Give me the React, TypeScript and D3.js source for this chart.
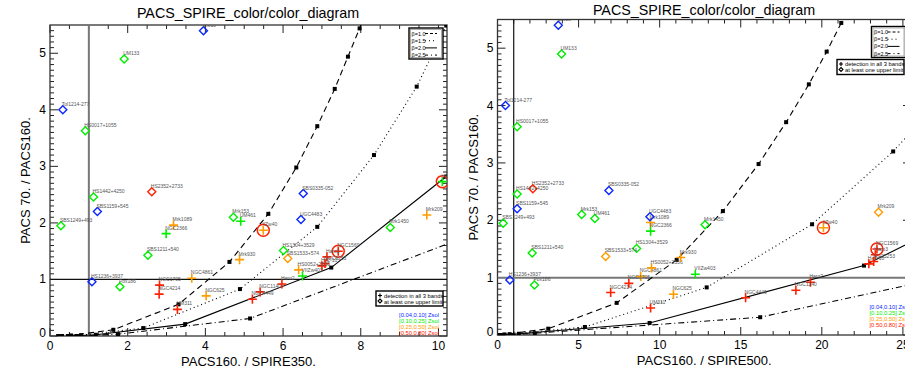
import React from 'react';
import * as d3 from 'd3';

// galaxies of the sample
const names = ['IZw18', 'UM133', 'Tol1214-277', 'HS0017+1055', 'HS2352+2733', 'HS1442+4250', 'SBS1159+545', 'SBS1249+493',
  'Mrk1089', 'NGC2366', 'SBS1211+540', 'HS1236+3937', 'Pox186', 'NGC4861', 'NGC1705', 'NGC4214', 'NGC625', 'UM311',
  'SBS0335-052', 'Mrk153', 'UM461', 'UGC4483', 'IIZw40', 'Mrk1450', 'Mrk209', 'HS1304+3529', 'SBS1533+574', 'NGC1569',
  'Haro3', 'He2-10', 'NGC5253', 'HS0052+2536', 'VIIZw403', 'Haro2', 'NGC1140', 'NGC4449', 'Mrk930', 'Haro11'];
// metallicity bin (0..3)
const zBin = [0, 1, 0, 1, 3, 1, 0, 1, 2, 1, 1, 0, 1, 2, 3, 3, 2, 3, 0, 1, 1, 0, 2, 1, 2, 1, 2, 3, 3, 3, 3, 2, 1, 3, 3, 3, 2, 1];
// PACS70 / PACS160
const ratio70 = [5.40, 4.90, 4.00, 3.63, 2.55, 2.46, 2.20, 1.95, 1.96, 1.81, 1.43, 0.96, 0.87, 1.02, 0.90, 0.74, 0.71, 0.47,
  2.52, 2.10, 2.03, 2.06, 1.87, 1.92, 2.14, 1.51, 1.37, 1.50, 1.40, 1.24, 1.28, 1.17, 1.06, 0.92, 0.78, 0.65, 1.35, 2.73];
// PACS160 / SPIRE350
const ratio350 = [3.95, 1.91, 0.33, 0.91, 2.62, 1.12, 1.22, 0.28, 3.18, 2.99, 2.52, 1.08, 1.80, 3.65, 2.82, 2.81, 4.02, 3.28,
  6.52, 4.72, 4.91, 6.46, 5.49, 8.76, 9.70, 6.01, 6.12, 7.42, 7.13, 7.00, 7.08, 6.40, 6.50, 5.97, 5.41, 5.21, 4.88, 10.1];
// PACS160 / SPIRE500
const ratio500 = [3.75, 3.95, 0.49, 1.21, 2.18, 1.21, 1.21, 0.35, 9.44, 9.44, 2.14, 0.76, 2.28, 8.83, 8.10, 6.98, 10.85, 9.44,
  6.87, 5.19, 6.00, 9.40, 20.1, 12.8, 23.5, 8.58, 6.67, 23.4, 23.3, 22.9, 23.2, 9.50, 12.2, 19.3, 18.4, 15.3, 11.3, 27.0];
// 1 = detected in all 3 bands, 0 = at least one upper limit
const det350 = [0, 0, 0, 0, 0, 0, 0, 0, 1, 1, 0, 0, 0, 1, 1, 1, 1, 1, 0, 0, 1, 0, 1, 0, 1, 0, 0, 1, 1, 1, 1, 1, 1, 1, 1, 1, 1, 1];
const det500 = [0, 0, 0, 0, 0, 0, 0, 0, 1, 1, 0, 0, 0, 1, 1, 1, 1, 1, 0, 0, 0, 0, 1, 0, 0, 0, 0, 1, 1, 1, 1, 1, 1, 1, 1, 1, 1, 1];
const ringed = ['IIZw40', 'NGC1569', 'Haro11'];

const zLabels = ['[0.04,0.10] Zsol', '[0.10,0.25] Zsol', '[0.25,0.50] Zsol', '[0.50,0.80] Zsol'];
const zColors = ['#0a28ff', '#00ee00', '#ff9c00', '#ff2000'];

// modified black body tracks
const betas = ['β=1.0', 'β=1.5', 'β=2.0', 'β=2.5'];
const track70 = [
  [0.00, 0.01, 0.11, 0.56, 1.31, 2.16, 2.98, 3.71, 4.37, 4.94, 5.44, 5.90],
  [0.00, 0.015, 0.14, 0.83, 1.93, 3.20, 4.41, 5.49],
  [0.00, 0.022, 0.21, 1.21, 2.82, 4.70],
  [0.00, 0.032, 0.31, 1.75, 4.10]];
const track350 = [
  [0.21, 0.54, 1.63, 3.31, 4.62, 5.62, 6.34, 6.88, 7.33, 7.67, 7.97, 8.22],
  [0.31, 0.80, 2.40, 4.89, 6.88, 8.34, 9.44, 10.2],
  [0.46, 1.18, 3.48, 7.24, 10.2, 12.3],
  [0.68, 1.75, 5.15, 10.7, 15.1]];
const track500 = [
  [0.14, 0.43, 3.13, 7.35, 11.05, 13.9, 16.1, 17.8, 19.2, 20.3, 21.2, 22.0],
  [0.25, 0.75, 5.39, 12.9, 19.4, 24.4, 28.3, 31.2],
  [0.43, 1.32, 9.38, 22.6, 34.0, 41.0],
  [0.75, 2.30, 16.2, 39.7, 50.0]];

const font = '"Liberation Sans", Arial, Helvetica, sans-serif';
const dashes = ['6,4', '1,3', null, '6,3,1,3'];

class App extends React.Component {
  svgRef = React.createRef<HTMLDivElement>();

  componentDidMount() {
    this._draw();
  }

  render() {
    return <div ref={this.svgRef} style={{ position: 'absolute', left: 0, top: 0 }}></div>;
  }

  _panel(svg, p) {
    const x = d3.scaleLinear().domain([0, p.xMax]).range([p.left, p.right]);
    const y = d3.scaleLinear().domain([0, 5.5]).range([p.bottom, p.top]);
    const g = svg.append('g');
    const clipId = 'clip' + p.id;
    g.append('clipPath').attr('id', clipId)
      .append('rect')
      .attr('x', p.left).attr('y', p.top)
      .attr('width', p.right - p.left).attr('height', p.bottom - p.top);

    // title
    g.append('text').attr('x', p.titleX).attr('y', p.titleY)
      .attr('text-anchor', 'middle').attr('font-size', 14.3).text('PACS_SPIRE_color/color_diagram');

    // ticks
    const xMaj = d3.range(0, p.xMax + 1e-6, p.xStep);
    const xMin = d3.range(0, p.xMax + 1e-6, p.xMinor).filter(v => Math.abs(v / p.xStep - Math.round(v / p.xStep)) > 1e-6);
    const yMaj = d3.range(0, 6);
    const yMin = d3.range(0, 55).map(v => v / 10).filter(v => v % 1 !== 0);
    const ax = g.append('g').attr('stroke', '#222').attr('stroke-width', 1);
    xMaj.forEach(v => {
      ax.append('line').attr('x1', x(v)).attr('x2', x(v)).attr('y1', p.bottom).attr('y2', p.bottom - 8);
      ax.append('line').attr('x1', x(v)).attr('x2', x(v)).attr('y1', p.top).attr('y2', p.top + 8);
    });
    xMin.forEach(v => {
      ax.append('line').attr('x1', x(v)).attr('x2', x(v)).attr('y1', p.bottom).attr('y2', p.bottom - 4);
      ax.append('line').attr('x1', x(v)).attr('x2', x(v)).attr('y1', p.top).attr('y2', p.top + 4);
    });
    yMaj.forEach(v => {
      ax.append('line').attr('y1', y(v)).attr('y2', y(v)).attr('x1', p.left).attr('x2', p.left + 8);
      ax.append('line').attr('y1', y(v)).attr('y2', y(v)).attr('x1', p.right).attr('x2', p.right - 8);
    });
    yMin.forEach(v => {
      ax.append('line').attr('y1', y(v)).attr('y2', y(v)).attr('x1', p.left).attr('x2', p.left + 4);
      ax.append('line').attr('y1', y(v)).attr('y2', y(v)).attr('x1', p.right).attr('x2', p.right - 4);
    });
    g.append('rect').attr('x', p.left).attr('y', p.top)
      .attr('width', p.right - p.left).attr('height', p.bottom - p.top)
      .attr('fill', 'none').attr('stroke', '#333').attr('stroke-width', 1.3);

    g.selectAll('.xl').data(xMaj).enter().append('text')
      .attr('x', d => x(d)).attr('y', p.bottom + 14)
      .attr('text-anchor', 'middle').attr('font-size', 12).text(d => d);
    g.selectAll('.yl').data(yMaj).enter().append('text')
      .attr('x', p.left - 4).attr('y', d => y(d) + (d === 0 ? 1 : 4))
      .attr('text-anchor', 'end').attr('font-size', 12).text(d => d);
    g.append('text').attr('x', (p.left + p.right) / 2).attr('y', p.bottom + 30)
      .attr('text-anchor', 'middle').attr('font-size', 13).text(p.xLabel);
    g.append('text').attr('transform', `translate(${p.left - 20},${(p.top + p.bottom) / 2}) rotate(-90)`)
      .attr('text-anchor', 'middle').attr('font-size', 13).text('PACS 70. / PACS160.');

    const inner = g.append('g').attr('clip-path', `url(#${clipId})`);

    // reference lines at 1
    inner.append('line').attr('x1', x(1)).attr('x2', x(1)).attr('y1', p.top).attr('y2', p.bottom)
      .attr('stroke', p.vGrey ? '#777' : '#111').attr('stroke-width', p.vGrey ? 2 : 1.2);
    inner.append('line').attr('x1', p.left).attr('x2', p.right).attr('y1', y(1)).attr('y2', y(1))
      .attr('stroke', p.vGrey ? '#111' : '#777').attr('stroke-width', p.vGrey ? 1.2 : 2);

    // model tracks
    const line = d3.line().x(d => x(d[0])).y(d => y(d[1]));
    betas.forEach((b, i) => {
      const pts = p.track[i].map((v, k) => [v, track70[i][k]]);
      inner.append('path').attr('d', line(pts))
        .attr('fill', 'none').attr('stroke', '#000').attr('stroke-width', 1.1)
        .attr('stroke-dasharray', dashes[i]);
      inner.selectAll('.sq' + i).data(pts).enter().append('rect')
        .attr('x', d => x(d[0]) - 2).attr('y', d => y(d[1]) - 2)
        .attr('width', 4).attr('height', 4).attr('fill', '#000');
    });

    // galaxies
    names.forEach((n, i) => {
      const px = x(p.xs[i]), py = y(ratio70[i]);
      const c = zColors[zBin[i]];
      if (p.det[i]) {
        inner.append('path').attr('d', `M${px - 4.5},${py}H${px + 4.5}M${px},${py - 4.5}V${py + 4.5}`)
          .attr('stroke', c).attr('stroke-width', 1.6);
      } else {
        inner.append('path').attr('d', `M${px},${py - 4}L${px + 4},${py}L${px},${py + 4}L${px - 4},${py}Z`)
          .attr('fill', 'none').attr('stroke', c).attr('stroke-width', 1.4);
      }
      if (ringed.indexOf(n) >= 0) {
        inner.append('circle').attr('cx', px).attr('cy', py).attr('r', 6)
          .attr('fill', 'none').attr('stroke', '#ff2000').attr('stroke-width', 1.5);
      }
      inner.append('text').attr('x', px - 1).attr('y', py - 4)
        .attr('font-size', 5).attr('fill', '#555').text(n);
    });

    // beta legend
    const lb = p.betaBox;
    g.append('rect').attr('x', lb[0]).attr('y', lb[1]).attr('width', 34).attr('height', 31)
      .attr('fill', '#fff').attr('stroke', '#000').attr('stroke-width', 1.4);
    g.append('rect').attr('x', lb[0] + 1.5).attr('y', lb[1] + 1.5).attr('width', 31).attr('height', 28)
      .attr('fill', 'none').attr('stroke', '#999').attr('stroke-width', 0.8);
    betas.forEach((b, i) => {
      const ty = lb[1] + 7.5 + i * 7.2;
      g.append('text').attr('x', lb[0] + 2.5).attr('y', ty).attr('font-size', 5.5).text(b);
      g.append('line').attr('x1', lb[0] + 16).attr('x2', lb[0] + 28).attr('y1', ty - 2).attr('y2', ty - 2)
        .attr('stroke', '#000').attr('stroke-width', 1).attr('stroke-dasharray', dashes[i] ? dashes[i].replace(/6/g, '3').replace(/4/g, '2') : null);
    });

    // detection legend
    const db = p.detBox;
    g.append('rect').attr('x', db[0]).attr('y', db[1]).attr('width', 67).attr('height', 15)
      .attr('fill', '#fff').attr('stroke', '#000').attr('stroke-width', 1.4);
    g.append('path').attr('d', `M${db[0] + 2},${db[1] + 4.5}h4M${db[0] + 4},${db[1] + 2.5}v4`)
      .attr('stroke', '#000').attr('stroke-width', 1.2);
    g.append('path').attr('d', `M${db[0] + 4},${db[1] + 8}l2,2l-2,2l-2,-2z`)
      .attr('fill', 'none').attr('stroke', '#000').attr('stroke-width', 1.1);
    g.append('text').attr('x', db[0] + 8).attr('y', db[1] + 6.5).attr('font-size', 5.8).text('detection in all 3 bands');
    g.append('text').attr('x', db[0] + 8).attr('y', db[1] + 12.5).attr('font-size', 5.8).text('at least one upper limit');

    // metallicity legend
    zLabels.forEach((t, i) => {
      g.append('text').attr('x', p.zPos[0]).attr('y', p.zPos[1] + i * 6.1)
        .attr('text-anchor', p.zAnchor).attr('font-size', 5.8).attr('fill', zColors[i]).text(t);
    });
  }

  _draw() {
    const w = 905, h = 370;
    const svg = d3.select(this.svgRef.current).append('svg')
      .attr('width', w).attr('height', h)
      .style('display', 'block')
      .attr('font-family', font);
    svg.append('rect').attr('width', w).attr('height', h).attr('fill', '#fff');
    this._panel(svg, {
      id: 'a', left: 50, right: 447, top: 25, bottom: 336, xMax: 10.22, xStep: 2, xMinor: 0.5,
      xs: ratio350, det: det350, track: track350, xLabel: 'PACS160. / SPIRE350.',
      titleX: 248, titleY: 18, vGrey: true,
      betaBox: [409, 28], detBox: [376, 291], zPos: [439, 316.5], zAnchor: 'end'
    });
    this._panel(svg, {
      id: 'b', left: 497.5, right: 911, top: 19.5, bottom: 335, xMax: 25.5, xStep: 5, xMinor: 1,
      xs: ratio500, det: det500, track: track500, xLabel: 'PACS160. / SPIRE500.',
      titleX: 704, titleY: 15, vGrey: false,
      betaBox: [871.5, 26.5], detBox: [837, 59.5], zPos: [869.5, 309], zAnchor: 'start'
    });
  }
}

export default App;
